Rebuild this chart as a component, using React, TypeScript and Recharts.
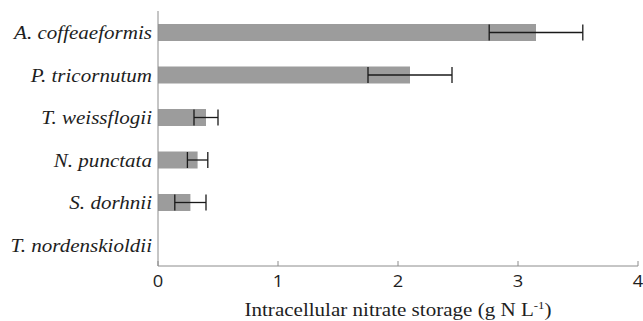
import React from 'react';
import { BarChart, Bar, XAxis, YAxis, ErrorBar } from 'recharts';

const species = [
  'A. coffeaeformis',
  'P. tricornutum',
  'T. weissflogii',
  'N. punctata',
  'S. dorhnii',
  'T. nordenskioldii',
];
const storage = [3.15, 2.1, 0.4, 0.33, 0.27, 0];
const storageError = [0.39, 0.35, 0.1, 0.085, 0.13, 0];
const xTicks = [0, 1, 2, 3, 4];

const data = species.map((name, i) => ({ name, value: storage[i], err: storageError[i] }));

const SX = 1.17;
const SERIF = "'Liberation Serif', 'Times New Roman', serif";
const FRAME = '#8c8c8c';
const TEXT = '#1e1e1e';

const YTick = (props: any) => {
  const { x, y, payload } = props;
  return (
    <text
      transform={`translate(${x},${y + 7}) scale(${SX},1)`}
      textAnchor="end"
      fontFamily={SERIF}
      fontStyle="italic"
      fontSize={18}
      fill={TEXT}
    >
      {payload.value}
    </text>
  );
};

const XTick = (props: any) => {
  const { x, y, payload } = props;
  return (
    <g>
      <line x1={x} y1={y} x2={x} y2={y - 5} stroke={FRAME} strokeWidth={1} />
      <text
        transform={`translate(${x},${y + 21}) scale(1.08,1)`}
        textAnchor="middle"
        fontFamily="'Open Sans', sans-serif"
        fontSize={17}
        fill={TEXT}
      >
        {payload.value}
      </text>
    </g>
  );
};

const XLabel = (props: any) => {
  const vb = props.viewBox || { x: 158, y: 266, width: 480 };
  const cx = vb.x + vb.width / 2;
  const by = vb.y + 50;
  return (
    <text
      transform={`translate(${cx},${by}) scale(${SX},1)`}
      textAnchor="middle"
      fontFamily={SERIF}
      fontSize={18}
      fill={TEXT}
    >
      Intracellular nitrate storage (g N L
      <tspan dy={-7} fontSize={11}>-1</tspan>
      <tspan dy={7}>)</tspan>
    </text>
  );
};

export default function App() {
  return (
    <div style={{ position: 'absolute', left: 0, top: 0, width: 643, height: 321, background: '#fff' }}>
      <BarChart
        width={643}
        height={321}
        data={data}
        layout="vertical"
        margin={{ top: 11, right: 5, bottom: 0, left: 0 }}
        barCategoryGap={0}
      >
        <XAxis
          xAxisId="main"
          type="number"
          domain={[0, 4]}
          ticks={xTicks}
          height={55}
          axisLine={{ stroke: FRAME, strokeWidth: 1 }}
          tickLine={false}
          tickSize={0}
          tickMargin={0}
          tick={<XTick />}
          interval={0}
          label={{ content: <XLabel /> }}
        />
        <XAxis
          xAxisId="top"
          orientation="top"
          type="number"
          domain={[0, 4]}
          height={0}
          tick={false}
          tickLine={false}
          axisLine={{ stroke: FRAME, strokeWidth: 1 }}
        />
        <YAxis
          yAxisId="main"
          type="category"
          dataKey="name"
          width={158}
          axisLine={{ stroke: FRAME, strokeWidth: 1 }}
          tickLine={false}
          tickSize={0}
          tickMargin={6}
          tick={<YTick />}
          interval={0}
        />
        <YAxis
          yAxisId="right"
          orientation="right"
          type="category"
          dataKey="name"
          width={0}
          tick={false}
          tickLine={false}
          axisLine={{ stroke: FRAME, strokeWidth: 1 }}
        />
        <Bar
          xAxisId="main"
          yAxisId="main"
          dataKey="value"
          fill="#9c9c9c"
          barSize={17}
          isAnimationActive={false}
        >
          <ErrorBar dataKey="err" direction="x" width={8} stroke="#1a1a1a" strokeWidth={1.3} isAnimationActive={false} />
        </Bar>
      </BarChart>
    </div>
  );
}
